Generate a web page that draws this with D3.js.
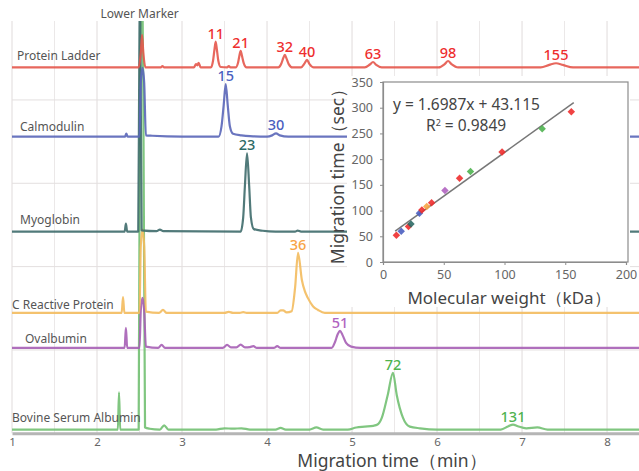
<!DOCTYPE html>
<html><head><meta charset="utf-8">
<script src="https://cdn.jsdelivr.net/npm/d3@7/dist/d3.min.js"></script>
<style>
html,body{margin:0;padding:0;background:#fff;}
svg{display:block;font-family:"Noto Sans","Open Sans",sans-serif;}
</style></head>
<body><svg id="c" width="639" height="471"></svg>
<script>
// ---------------- DATA ----------------
const traceNames = ["Protein Ladder","Calmodulin","Myoglobin","C Reactive Protein","Ovalbumin","Bovine Serum Albumin"];
// baseline offsets of the stacked traces (signal units)
const traceOffsets = [87.8, 71.2, 48.4, 28.9, 20.5, 0.9];
const traceColors = ["#e4574b","#5a66b8","#3e6b6b","#f3bb5e","#a65fb5","#72c072"];
const labelColors = ["#ee2e2e","#4b5fc0","#2d6a66","#f7a445","#b063c0","#4fb350"];

// [migration time (min), signal above baseline]
const ladderTrace = [[1.0,0],[2.49,0],[2.515,3.5],[2.53,7.8],[2.545,3.5],[2.57,0],
 [2.75,0],[2.77,0.3],[2.79,0],
 [3.14,0],[3.165,0.8],[3.18,0.5],[3.195,1.1],[3.22,0],
 [3.34,0],[3.365,1.6],[3.38,4.0],[3.396,6.2],[3.412,4.0],[3.427,1.6],[3.455,0.1],
 [3.53,0],[3.55,0.35],[3.57,0],
 [3.63,0],[3.66,1.2],[3.675,2.8],[3.69,4.0],[3.705,2.8],[3.725,1.1],[3.76,0],
 [4.13,0],[4.17,1.0],[4.19,2.2],[4.21,3.0],[4.23,2.1],[4.255,0.8],[4.3,0],
 [4.4,0],[4.44,0.9],[4.47,1.8],[4.5,0.8],[4.55,0],
 [5.15,0],[5.21,0.7],[5.247,1.3],[5.285,0.6],[5.35,0],
 [6.02,0],[6.09,0.8],[6.13,1.55],[6.17,0.8],[6.25,0],
 [7.22,0],[7.32,0.6],[7.4,1.0],[7.48,0.6],[7.6,0],[8.4,0]];
const calmodulinTrace = [[1.0,0],[2.33,0],[2.345,0.7],[2.36,0],
 [2.5,0],[2.515,13],[2.535,16.5],[2.555,13],[2.575,0.3],[2.65,0.2],[3.0,0],
 [3.43,0],[3.465,2.5],[3.49,7.5],[3.514,12.6],[3.538,7.5],[3.563,2.5],[3.6,0.7],[3.7,0.3],[3.8,0.1],
 [4.0,0],[4.06,0.3],[4.106,0.8],[4.15,0.3],[4.25,0],[8.4,0]];
const myoglobinTrace = [[1.0,0],[2.325,0],[2.34,1.9],[2.355,0],
 [2.485,0],[2.497,40],[2.505,60],[2.513,40],[2.525,0.3],
 [2.7,0.1],[2.74,0.5],[2.78,0.1],
 [3.69,0],[3.72,3.5],[3.74,11],[3.765,18.8],[3.79,11],[3.81,3.5],[3.845,0.6],[3.95,0.2],[4.1,0],
 [4.33,0],[4.36,0.25],[4.4,0],[8.4,0]];
const crpTrace = [[1.0,0],[2.29,0],[2.306,3.8],[2.322,0],
 [2.5,0],[2.515,16],[2.535,20],[2.555,16],[2.575,0.3],
 [2.73,0],[2.776,0.7],[2.82,0],
 [3.5,0],[3.55,0.25],[3.6,0],[3.68,0],[3.72,0.2],[3.76,0],
 [4.12,0],[4.16,0.6],[4.19,0.6],[4.23,0.1],
 [4.29,0.4],[4.33,6],[4.365,14.4],[4.41,7.9],[4.445,5.2],[4.48,3.6],[4.54,1.6],[4.6,0.7],[4.68,0],[8.4,0]];
const ovalbuminTrace = [[1.0,0],[2.325,0],[2.34,4.8],[2.355,0],
 [2.5,0],[2.515,9],[2.535,12],[2.555,9],[2.575,0.3],
 [2.72,0],[2.76,0.7],[2.8,0],
 [3.48,0],[3.53,0.7],[3.58,0.1],[3.64,0.1],[3.69,0.8],[3.74,0.1],[3.8,0.2],[3.84,0.4],[3.88,0],
 [4.08,0],[4.12,0.4],[4.16,0],
 [4.76,0],[4.8,1.4],[4.83,3.2],[4.86,4.1],[4.89,3.0],[4.93,1.2],[4.99,0.3],[5.1,0],[8.4,0]];
const bsaTrace = [[1.0,0],[2.245,0],[2.259,8.9],[2.273,0],
 [2.49,0],[2.505,80],[2.525,110],[2.545,80],[2.565,0.5],
 [2.62,0.2],[2.74,0],[2.79,1.0],[2.84,0],
 [3.4,0],[3.5,0.3],[3.6,0.2],[3.7,0.3],[3.8,0],
 [4.1,0],[4.16,0.4],[4.22,0],[4.5,0],[4.58,0.5],[4.66,0],
 [4.95,0],[5.05,0.5],[5.15,0.7],[5.25,0.9],[5.3,1.2],[5.35,2.8],[5.42,8.3],[5.482,13.6],[5.526,8.3],[5.6,2.8],[5.68,0.7],[5.8,0.3],[6.0,0],
 [6.75,0],[6.84,0.8],[6.894,1.2],[6.95,0.8],[7.05,0.3],[7.18,0.5],[7.3,0],[8.4,0]];
const traces = [ladderTrace, calmodulinTrace, myoglobinTrace, crpTrace, ovalbuminTrace, bsaTrace];

// peak labels: [trace index, label, time (min), signal of peak top]
const peakLabels = [
 [0,"11",3.396,6.2],[0,"21",3.69,4.0],[0,"32",4.21,3.0],[0,"40",4.47,1.8],
 [0,"63",5.247,1.3],[0,"98",6.13,1.55],[0,"155",7.4,1.0],
 [1,"15",3.514,12.6],[1,"30",4.106,0.8],
 [2,"23",3.765,18.8],
 [3,"36",4.365,14.4],
 [4,"51",4.86,4.1],
 [5,"72",5.482,13.6],[5,"131",6.894,1.2]];
const markerLabel = "Lower Marker";
const markerTime = 2.525;

const xTicks = [1,2,3,4,5,6,7,8];
const xTitle = "Migration time（min）";

// inset: calibration curve
const mwValues  = [11,15,21,23,30,32,36,40,51,63,72,98,131,155];
const secValues = [52,60,69,74,95,101,108,115,139,163,176,214,259,292];
const mwTrace   = [0,1,0,2,1,0,3,0,4,0,5,0,5,0];
const fitSlope = 1.6987, fitIntercept = 43.115;
const fitRange = [10,157];
const insetXTicks = [0,50,100,150,200];
const insetYTicks = [0,50,100,150,200,250,300,350];
const insetXTitle = "Molecular weight（kDa）";
const insetYTitle = "Migration time（sec）";
const eqText = "y = 1.6987x + 43.115";
const r2Value = "0.9849";

// ---------------- CHART ----------------
const svg = d3.select("#c");
const x = d3.scaleLinear().domain([1, 8.376]).range([12, 639]);
const y = d3.scaleLinear().domain([0, 100]).range([433.3, 16.6]);
const plotTop = 21;

// grid
const grid = svg.append("g");
grid.selectAll("line.v").data(d3.range(1, 8.4, 0.5)).join("line")
  .attr("x1", d=>x(d)).attr("x2", d=>x(d)).attr("y1", plotTop).attr("y2", y(0))
  .attr("stroke", d=> Number.isInteger(d) ? "#e0dbdb" : "#ebe8e8").attr("stroke-width",1);
grid.selectAll("line.h").data([20,40,60,80]).join("line")
  .attr("x1", x(1)).attr("x2", x.range()[1]).attr("y1", d=>y(d)).attr("y2", d=>y(d))
  .attr("stroke", "#e3dfdf").attr("stroke-width",1);

// clip
svg.append("clipPath").attr("id","plotclip").append("rect")
  .attr("x", x(1)).attr("y", plotTop).attr("width", x.range()[1]-x(1)).attr("height", y(0)-plotTop);

const line = d3.line().curve(d3.curveMonotoneX);
const tg = svg.append("g").attr("clip-path","url(#plotclip)");
// draw bottom trace first so upper traces sit on top
d3.range(traces.length-1, -1, -1).forEach(i=>{
  line.x(d=>x(d[0])).y(d=>y(traceOffsets[i]+d[1]));
  tg.append("path").attr("d", line(traces[i])).attr("fill","none")
    .attr("stroke", traceColors[i]).attr("stroke-width", 2.2).attr("stroke-linejoin","round")
    .attr("stroke-opacity", 0.9);
});

// x axis
const xa = svg.append("g").attr("transform", `translate(0,${y(0)})`)
  .call(d3.axisBottom(x).tickValues(xTicks).tickSize(0).tickPadding(4.5).tickFormat(d3.format("d")));
xa.select(".domain").attr("stroke","#b5b5b5").attr("stroke-width",3);
xa.selectAll("text").attr("fill","#666").attr("font-size","11.5px").attr("font-family","Noto Sans");
svg.append("text").attr("x", 392).attr("y", 467).attr("text-anchor","middle")
  .attr("font-size","17.5px").attr("fill","#444").text(xTitle);

// trace name labels
const nameAnchors = [[17,-7.5],[20,-5.5],[20,-7.5],[12,-4],[25,-5],[12,-7.5]];
traceNames.forEach((n,i)=>{
  svg.append("text").attr("x", nameAnchors[i][0]).attr("y", y(traceOffsets[i]) + nameAnchors[i][1])
    .attr("font-size","12px").attr("fill","#555").text(n);
});
svg.append("text").attr("x", x(markerTime)-2).attr("y", 18).attr("text-anchor","middle")
  .attr("font-size","12px").attr("fill","#555").text(markerLabel);

// peak labels
svg.selectAll("text.pk").data(peakLabels).join("text")
  .attr("x", d=>x(d[2])).attr("y", d=>y(traceOffsets[d[0]]+d[3]) - 3)
  .attr("text-anchor","middle").attr("font-size","14.5px").attr("font-weight","500")
  .attr("fill", d=>labelColors[d[0]]).text(d=>d[1]);

// ---------------- INSET ----------------
const xi = d3.scaleLinear().domain([0,200]).range([383,626]);
const yi = d3.scaleLinear().domain([0,350]).range([262,82]);
const ig = svg.append("g");
ig.append("rect").attr("x", 347).attr("y", 76).attr("width", 283).attr("height", 231).attr("fill","#fff");
ig.append("rect").attr("x", xi(0)).attr("y", yi(350)).attr("width", xi(200)-xi(0)+2).attr("height", yi(0)-yi(350))
  .attr("fill","#fff").attr("stroke","#8c8c8c").attr("stroke-width",1.2);
const yax = ig.append("g").attr("transform",`translate(${xi(0)},0)`)
  .call(d3.axisLeft(yi).tickValues(insetYTicks).tickSize(3).tickPadding(7));
const xax = ig.append("g").attr("transform",`translate(0,${yi(0)})`)
  .call(d3.axisBottom(xi).tickValues(insetXTicks).tickSize(3).tickPadding(5));
[yax,xax].forEach(a=>{
  a.select(".domain").attr("stroke","#8c8c8c").attr("stroke-width",1.2);
  a.selectAll(".tick line").attr("stroke","#8c8c8c");
  a.selectAll("text").attr("fill","#666").attr("font-size","12.5px").attr("font-family","Noto Sans");
});
ig.append("text").attr("x", 509).attr("y", 304).attr("text-anchor","middle")
  .attr("font-size","17px").attr("fill","#444").text(insetXTitle);
ig.append("text").attr("transform", `translate(344,172) rotate(-90)`).attr("text-anchor","middle")
  .attr("font-size","17.5px").attr("fill","#444").text(insetYTitle);

// trendline
ig.append("line").attr("x1", xi(fitRange[0])).attr("y1", yi(fitSlope*fitRange[0]+fitIntercept))
  .attr("x2", xi(fitRange[1])).attr("y2", yi(fitSlope*fitRange[1]+fitIntercept))
  .attr("stroke","#777").attr("stroke-width",1.5);
// points
const sym = d3.symbol(d3.symbolSquare, 28);
ig.selectAll("path.pt").data(mwValues.map((m,i)=>[m,secValues[i],mwTrace[i]])).join("path")
  .attr("d", sym).attr("transform", d=>`translate(${xi(d[0])},${yi(d[1])}) rotate(45)`)
  .attr("fill", d=>labelColors[d[2]]).attr("opacity",0.9);

// equation
ig.append("text").attr("x", 393).attr("y", 110).attr("font-size","15.5px").attr("fill","#444").text(eqText);
const r2 = ig.append("text").attr("x", 426).attr("y", 131).attr("font-size","15.5px").attr("fill","#444");
r2.append("tspan").text("R");
r2.append("tspan").attr("font-size","9px").attr("dy","-5").text("2");
r2.append("tspan").attr("dy","5").text(" = " + r2Value);
</script></body></html>
